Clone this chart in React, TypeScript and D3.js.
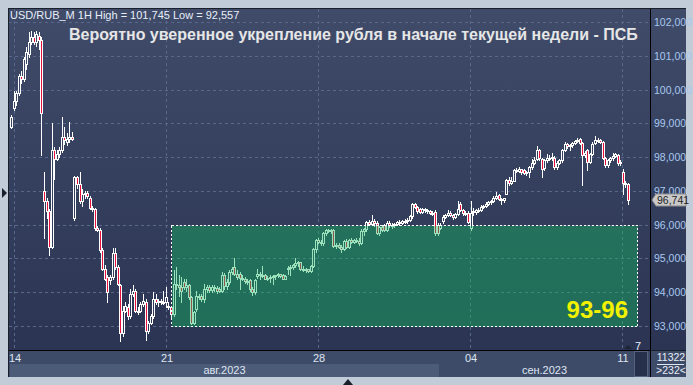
import React from "react";
import * as d3 from "d3";

// hourly candles USD/RUB_M, [open, high, low, close]
const ohlc: [number, number, number, number][] = [
  [98.9, 99.25, 98.85, 99.2], [99.45, 99.95, 99.4, 99.65], [99.65, 99.95, 99.55, 99.9], [99.9, 100.45, 99.85, 100.4],
  [100.4, 100.55, 100.2, 100.3], [100.3, 100.95, 100.25, 100.9], [100.75, 101.25, 100.6, 101.1], [101.05, 101.7, 100.95, 101.4],
  [101.4, 101.745, 101.35, 101.55], [101.55, 101.7, 101.35, 101.4], [101.4, 101.74, 101.3, 101.65], [101.6, 101.7, 101.2, 101.47],
  [101.47, 101.55, 98.06, 99.3], [97.0, 97.55, 95.6, 96.7], [96.7, 96.8, 96.2, 96.4], [96.4, 96.45, 95.1, 95.35],
  [95.35, 99.0, 95.3, 98.2], [98.2, 98.3, 97.35, 97.95], [97.95, 98.2, 97.9, 98.1], [98.1, 98.3, 98.0, 98.2],
  [98.2, 99.2, 98.15, 98.6], [98.6, 98.9, 98.4, 98.5], [98.45, 98.7, 98.35, 98.55], [98.55, 99.05, 98.45, 98.6],
  [98.6, 98.75, 98.5, 98.55], [96.2, 97.45, 96.15, 97.4], [97.4, 97.45, 97.1, 97.2], [97.2, 97.55, 96.65, 96.7],
  [96.7, 97.05, 96.55, 96.9], [96.9, 97.0, 96.8, 96.95], [96.95, 97.0, 96.8, 96.85], [96.8, 96.85, 96.45, 96.5],
  [96.5, 96.55, 96.4, 96.45], [96.45, 96.5, 95.85, 95.9], [95.9, 95.95, 95.8, 95.85], [95.85, 95.9, 95.2, 95.25],
  [95.25, 95.3, 94.65, 94.7], [94.7, 94.8, 94.35, 94.4], [94.45, 94.5, 93.7, 94.0], [94.35, 94.5, 94.25, 94.45],
  [94.45, 95.3, 94.4, 95.15], [95.15, 95.3, 94.7, 94.75], [94.75, 94.8, 94.2, 94.25], [94.2, 94.25, 92.557, 92.8],
  [92.8, 93.6, 92.7, 93.45], [93.45, 93.7, 93.4, 93.6], [93.55, 93.65, 93.2, 93.3], [93.3, 94.1, 93.25, 93.95],
  [93.95, 94.2, 93.9, 94.05], [94.05, 94.1, 93.4, 93.45], [93.45, 93.55, 93.35, 93.45], [93.45, 93.7, 93.4, 93.65],
  [93.65, 93.95, 93.6, 93.75], [93.7, 93.8, 92.6, 92.85], [92.85, 93.15, 92.8, 93.1], [93.1, 93.35, 93.05, 93.3],
  [93.3, 94.0, 93.25, 93.8], [93.8, 93.95, 93.65, 93.7], [93.7, 93.8, 93.6, 93.75], [93.75, 93.8, 93.65, 93.72],
  [93.72, 94.05, 93.65, 93.7], [93.7, 94.15, 93.55, 93.85], [93.6, 93.7, 93.5, 93.55], [93.55, 93.6, 93.2, 93.35],
  [93.35, 94.65, 93.3, 94.25], [94.25, 94.75, 94.1, 94.2], [94.2, 94.5, 93.9, 94.15], [94.15, 94.45, 93.7, 94.05],
  [94.3, 94.4, 94.1, 94.15], [94.15, 94.4, 94.05, 94.2], [94.2, 94.25, 93.8, 93.85], [93.85, 93.9, 93.05, 93.1],
  [93.1, 93.45, 93.05, 93.4], [93.5, 94.05, 93.45, 93.9], [93.9, 93.95, 93.8, 93.88], [93.9, 93.95, 93.75, 93.8],
  [93.8, 94.25, 93.7, 94.1], [94.1, 94.2, 94.0, 94.15], [94.15, 94.2, 94.02, 94.08], [94.08, 94.2, 94.0, 94.14],
  [94.14, 94.2, 94.05, 94.12], [94.12, 94.18, 93.98, 94.05], [94.1, 94.15, 94.0, 94.05], [94.05, 94.6, 94.0, 94.52],
  [94.52, 94.58, 94.1, 94.17], [94.17, 94.4, 94.1, 94.3], [94.3, 94.65, 94.25, 94.6], [94.6, 94.75, 94.55, 94.7],
  [94.75, 95.0, 94.5, 94.55], [94.55, 94.65, 94.4, 94.45], [94.55, 94.6, 94.1, 94.42], [94.42, 94.5, 94.35, 94.38],
  [94.38, 94.45, 94.28, 94.33], [94.33, 94.4, 94.25, 94.3], [94.35, 94.4, 94.05, 94.1], [94.1, 94.15, 93.92, 94.0],
  [94.0, 94.4, 93.95, 94.35], [94.47, 94.7, 94.42, 94.55], [94.55, 94.6, 94.4, 94.5], [94.5, 94.78, 94.45, 94.52],
  [94.52, 94.55, 94.38, 94.4], [94.4, 94.48, 94.35, 94.42], [94.42, 94.5, 94.3, 94.45], [94.45, 94.5, 94.25, 94.47],
  [94.47, 94.52, 94.4, 94.5], [94.5, 94.58, 94.45, 94.53], [94.53, 94.55, 94.45, 94.48], [94.5, 94.55, 94.38, 94.4],
  [94.4, 94.52, 94.38, 94.48], [94.68, 94.78, 94.55, 94.72], [94.72, 94.8, 94.5, 94.75], [94.75, 94.85, 94.68, 94.8],
  [94.8, 95.0, 94.75, 94.86], [94.86, 94.92, 94.78, 94.88], [94.88, 94.9, 94.65, 94.7], [94.7, 94.78, 94.62, 94.66],
  [94.66, 94.72, 94.6, 94.68], [94.68, 94.7, 94.6, 94.64], [94.64, 94.82, 94.6, 94.78], [94.78, 95.32, 94.75, 95.28],
  [95.28, 95.58, 95.2, 95.55], [95.55, 95.62, 95.45, 95.5], [95.5, 95.55, 95.4, 95.45], [95.45, 95.78, 95.4, 95.75],
  [95.75, 95.88, 95.7, 95.84], [95.84, 95.88, 95.78, 95.82], [95.82, 95.86, 95.76, 95.85], [95.85, 95.88, 95.35, 95.38],
  [95.38, 95.45, 95.3, 95.4], [95.4, 95.45, 95.3, 95.35], [95.35, 95.4, 95.2, 95.28], [95.28, 95.55, 95.25, 95.52],
  [95.52, 95.58, 95.3, 95.35], [95.35, 95.58, 95.32, 95.55], [95.55, 95.6, 95.45, 95.5], [95.5, 95.58, 95.45, 95.55],
  [95.55, 95.62, 95.48, 95.52], [95.52, 95.6, 95.4, 95.45], [95.45, 95.88, 95.42, 95.82], [95.82, 95.9, 95.7, 95.86],
  [95.86, 96.12, 95.82, 96.08], [96.08, 96.15, 95.98, 96.02], [96.02, 96.3, 95.98, 96.1], [96.1, 96.18, 95.95, 96.05],
  [96.05, 96.1, 95.72, 95.76], [95.76, 95.95, 95.7, 95.92], [95.92, 96.0, 95.8, 95.85], [95.98, 96.02, 95.8, 95.84],
  [95.84, 96.1, 95.8, 96.06], [96.06, 96.12, 95.92, 95.98], [95.98, 96.05, 95.9, 96.0], [96.0, 96.06, 95.94, 96.02],
  [96.02, 96.1, 95.98, 96.08], [96.08, 96.14, 96.0, 96.05], [96.05, 96.15, 96.02, 96.12], [96.12, 96.18, 96.05, 96.1],
  [96.1, 96.2, 96.05, 96.14], [96.14, 96.3, 96.1, 96.25], [96.25, 96.65, 96.2, 96.6], [96.6, 96.64, 96.5, 96.52],
  [96.52, 96.55, 96.35, 96.4], [96.45, 96.5, 96.36, 96.38], [96.38, 96.48, 96.35, 96.45], [96.45, 96.5, 96.38, 96.42],
  [96.42, 96.46, 96.36, 96.4], [96.4, 96.44, 96.32, 96.36], [96.36, 96.4, 96.3, 96.35], [96.38, 96.42, 95.7, 95.75],
  [96.0, 96.05, 95.7, 95.76], [95.9, 96.05, 95.88, 96.0], [96.1, 96.28, 96.05, 96.24], [96.24, 96.32, 96.2, 96.28],
  [96.28, 96.44, 96.25, 96.36], [96.36, 96.4, 96.25, 96.28], [96.28, 96.33, 96.18, 96.24], [96.24, 96.36, 96.2, 96.33],
  [96.33, 96.7, 96.3, 96.46], [96.62, 96.66, 96.4, 96.42], [96.42, 96.45, 96.3, 96.34], [96.34, 96.4, 96.28, 96.32],
  [96.36, 96.4, 96.05, 96.08], [95.9, 96.7, 95.85, 96.35], [96.4, 96.48, 96.3, 96.38], [96.38, 96.46, 96.33, 96.44],
  [96.44, 96.5, 96.38, 96.42], [96.42, 96.58, 96.4, 96.52], [96.52, 96.58, 96.48, 96.55], [96.55, 96.66, 96.52, 96.62],
  [96.62, 96.7, 96.58, 96.66], [96.66, 96.74, 96.62, 96.7], [96.7, 96.84, 96.66, 96.8], [96.8, 96.96, 96.75, 96.86],
  [96.88, 96.92, 96.74, 96.76], [96.76, 96.8, 96.62, 96.74], [96.74, 96.8, 96.66, 96.78], [96.92, 97.34, 96.9, 97.32],
  [97.32, 97.4, 97.18, 97.24], [97.24, 97.42, 97.2, 97.3], [97.3, 97.65, 97.28, 97.62], [97.62, 97.68, 97.55, 97.6],
  [97.6, 97.72, 97.56, 97.64], [97.64, 97.66, 97.5, 97.56], [97.62, 97.66, 97.5, 97.52], [97.52, 97.6, 97.48, 97.56],
  [97.56, 97.74, 97.4, 97.7], [97.7, 97.95, 97.66, 97.84], [97.84, 98.0, 97.8, 97.92], [97.94, 98.33, 97.9, 98.21],
  [98.21, 98.24, 97.9, 97.97], [97.93, 97.96, 97.4, 97.64], [97.67, 97.95, 97.62, 97.92], [97.92, 98.1, 97.85, 97.98],
  [97.98, 98.05, 97.9, 97.96], [97.96, 98.12, 97.9, 98.0], [97.98, 98.02, 97.65, 97.7], [97.7, 97.88, 97.66, 97.84],
  [97.84, 97.94, 97.8, 97.9], [97.9, 98.24, 97.86, 98.21], [98.21, 98.45, 98.18, 98.38], [98.38, 98.42, 98.28, 98.32],
  [98.32, 98.4, 98.22, 98.35], [98.35, 98.45, 98.3, 98.42], [98.42, 98.52, 98.38, 98.48], [98.48, 98.56, 98.44, 98.52],
  [98.55, 98.58, 98.38, 98.42], [98.42, 98.45, 97.18, 98.07], [98.07, 98.18, 98.0, 98.12], [98.21, 98.24, 97.62, 97.87],
  [97.87, 98.12, 97.82, 98.08], [98.08, 98.45, 98.05, 98.4], [98.43, 98.63, 98.4, 98.52], [98.52, 98.56, 98.45, 98.5],
  [98.5, 98.54, 98.42, 98.46], [98.46, 98.48, 97.95, 97.98], [97.98, 98.0, 97.72, 97.76], [97.76, 97.95, 97.7, 97.9],
  [97.9, 98.0, 97.85, 97.96], [97.96, 98.12, 97.92, 98.04], [98.04, 98.12, 98.0, 98.08], [98.06, 98.1, 97.78, 97.82],
  [97.82, 97.92, 97.78, 97.86], [97.57, 97.64, 96.9, 97.23], [97.23, 97.3, 97.12, 97.2], [97.2, 97.22, 96.6, 96.741],
];

const priceTicks = [93, 94, 95, 96, 97, 98, 99, 100, 101, 102];
const dayLabels = ["14", "21", "28", "04", "11"];
const dayIndex = [1.2, 61, 121, 180.7, 240.6];
const monthLabels = ["авг.2023", "сен.2023"];
const monthStart = [-0.4, 168.5];
const zone = { from: 63.1, to: 246.5, low: 93, high: 96, label: "93-96" };
const headerText = "USD/RUB_M 1H High = 101,745 Low = 92,557";
const titleText = "Вероятно уверенное укрепление рубля в начале текущей недели - ПСБ";
const barsCount = "11322";
const barsShown = ">232<";

const W = 693;
const H = 385;
const plot = { left: 9, right: 650, top: 9, bottom: 350 };
const font = "'Liberation Sans', Arial, sans-serif";

const fmt = (p: number) => p.toFixed(3).replace(".", ",");

export default function App() {
  const x = d3.scaleLinear().domain([0, ohlc.length - 1]).range([11, 628]);
  const y = d3.scaleLinear().domain([93, 102]).range([326, 22]);
  const last = ohlc[ohlc.length - 1][3];
  const ly = Math.round(y(last));
  const monthEnd = [monthStart[1], null];

  return (
    <div>
      <style>{`body{margin:0}`}</style>
      <svg width={W} height={H} style={{ display: "block", fontFamily: font }}>
        <defs>
          <linearGradient id="bg" gradientUnits="userSpaceOnUse" x1="0" y1={plot.top} x2="0" y2={plot.bottom}>
            <stop offset="0" stopColor="#3f4b69" />
            <stop offset="1" stopColor="#2b3553" />
          </linearGradient>
          <clipPath id="plotClip">
            <rect x={plot.left} y={plot.top} width={plot.right - plot.left} height={plot.bottom - plot.top} />
          </clipPath>
        </defs>

        {/* window frame */}
        <rect width={W} height={H} fill="#c2ccd8" />
        <rect x={8} y={8} width={678} height={369} fill="#1a1f2c" />
        <rect x={plot.left} y={plot.top} width={plot.right - plot.left} height={plot.bottom - plot.top} fill="url(#bg)" />
        <rect x={plot.right + 1} y={plot.top} width={686 - plot.right - 1} height={plot.bottom - plot.top} fill="url(#bg)" />

        {/* grid */}
        <g stroke="#58688a" strokeDasharray="3,3" shapeRendering="crispEdges">
          {priceTicks.map((p) => (
            <line key={p} x1={plot.left} x2={plot.right} y1={Math.round(y(p)) + 0.5} y2={Math.round(y(p)) + 0.5} />
          ))}
          {dayIndex.map((d, i) => (
            <line key={i} x1={Math.round(x(d)) + 0.5} x2={Math.round(x(d)) + 0.5} y1={plot.top} y2={plot.bottom} />
          ))}
        </g>

        {/* candles */}
        <g clipPath="url(#plotClip)" shapeRendering="crispEdges">
          {ohlc.map(([o, h, l, c], i) => {
            const cx = Math.round(x(i));
            const up = c >= o;
            const top = Math.round(y(Math.max(o, c)));
            const bot = Math.round(y(Math.min(o, c)));
            return (
              <g key={i}>
                <line x1={cx + 0.5} x2={cx + 0.5} y1={Math.round(y(h))} y2={Math.round(y(l)) + 1} stroke="#ffffff" />
                <rect
                  x={cx - 0.5}
                  y={top + 0.5}
                  width={2}
                  height={Math.max(bot - top, 1)}
                  fill={up ? "url(#bg)" : "#e8103a"}
                  stroke="#ffffff"
                />
              </g>
            );
          })}
        </g>

        {/* target zone */}
        <rect
          x={Math.round(x(zone.from)) + 0.5}
          y={Math.round(y(zone.high)) + 0.5}
          width={Math.round(x(zone.to)) - Math.round(x(zone.from))}
          height={Math.round(y(zone.low)) - Math.round(y(zone.high))}
          fill="rgb(16,186,96)"
          fillOpacity={0.42}
          stroke="#ffffff"
          strokeDasharray="2,2"
          shapeRendering="crispEdges"
        />
        <text
          x={Math.round(x(zone.to)) - 9}
          y={Math.round(y(zone.low)) - 8}
          textAnchor="end"
          fill="#f2f200"
          fontSize={24}
          fontWeight="bold"
        >
          {zone.label}
        </text>

        {/* texts */}
        <text x={10} y={19} fill="#e8eef8" fontSize={11}>{headerText}</text>
        <text x={69} y={40} fill="#e6e6e6" fontSize={16} fontWeight="bold">{titleText}</text>

        {/* price axis */}
        <line x1={plot.right + 0.5} x2={plot.right + 0.5} y1={plot.top} y2={377} stroke="#000" />
        {priceTicks.map((p) => (
          <text key={p} x={654} y={Math.round(y(p)) + 4} fill="#a8c8f0" fontSize={10.5}>{fmt(p)}</text>
        ))}
        <path
          d={`M652,${ly} L656,${ly - 6} L686,${ly - 6} L686,${ly + 6} L656,${ly + 6} Z`}
          fill="#c9c9c9"
          stroke="#8d8d8d"
        />
        <text x={657} y={ly + 4} fill="#1e1e1e" fontSize={10.5}>{fmt(last)}</text>

        {/* time axis */}
        <rect x={plot.left} y={plot.bottom + 1} width={plot.right - plot.left} height={26} fill="#3e4b68" />
        {monthLabels.map((m, i) => {
          const a = Math.round(x(monthStart[i]));
          const b = monthEnd[i] === null ? plot.right : Math.round(x(monthEnd[i] as number));
          return (
            <g key={m}>
              <rect x={a} y={364} width={b - a} height={13} fill={i === 0 ? "#4c5b78" : "#3e4b68"} />
              <text x={(a + b) / 2} y={374} textAnchor="middle" fill="#dfe6f2" fontSize={11}>{m}</text>
            </g>
          );
        })}
        {dayLabels.map((d, i) => (
          <text key={d} x={Math.round(x(dayIndex[i])) + 1} y={362} textAnchor="middle" fill="#dfe6f2" fontSize={11}>{d}</text>
        ))}
        <line x1={plot.left} x2={plot.right} y1={plot.bottom + 0.5} y2={plot.bottom + 0.5} stroke="#000" />

        {/* small scroller and bar counter */}
        <rect x={634.5} y={351.5} width={13} height={25} fill="#27304a" stroke="#55627e" />
        <path d="M624,349 L628,345 L632,349 Z" fill="#1e2536" />
        <text x={635} y={350} fill="#e8eef8" fontSize={11}>7</text>
        <rect x={plot.right + 1} y={plot.bottom + 1} width={35} height={26} fill="#3e4b68" />
        <text x={671} y={361} textAnchor="middle" fill="#e8eef8" fontSize={10.5}>{barsCount}</text>
        <line x1={657} x2={684} y1={364.5} y2={364.5} stroke="#dfe6f2" />
        <text x={671} y={374} textAnchor="middle" fill="#e8eef8" fontSize={10.5}>{barsShown}</text>

        {/* frame markers */}
        <path d="M2,188 L7,193 L2,198 Z" fill="#1a1f2c" />
        <path d="M343,385 L348,379 L353,385 Z" fill="#1a1f2c" />
      </svg>
    </div>
  );
}
